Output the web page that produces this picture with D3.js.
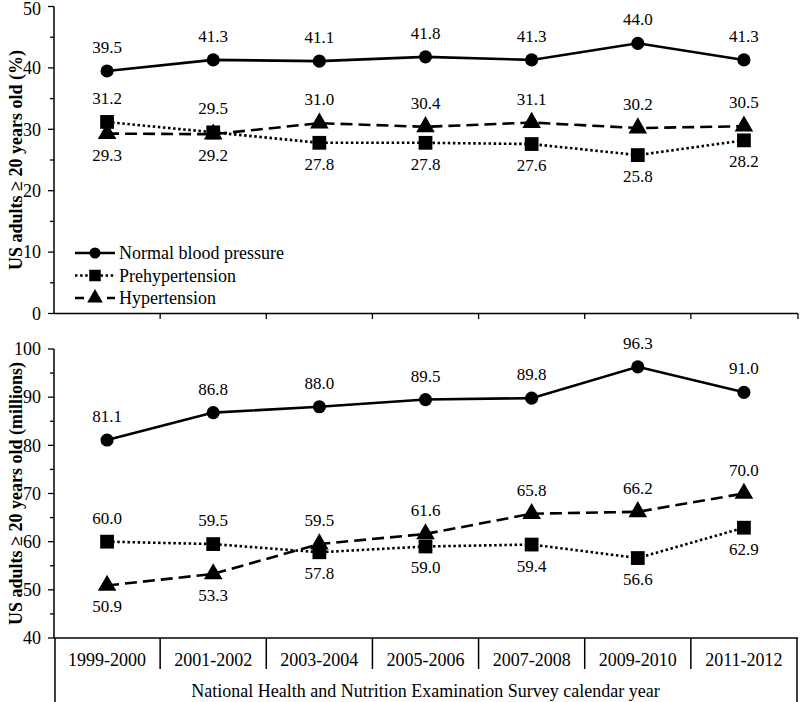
<!DOCTYPE html>
<html lang="en">
<head>
<meta charset="UTF-8">
<title>US adults by blood pressure category, NHANES 1999-2012</title>
<script src="https://d3js.org/d3.v7.min.js"></script>
<style>
    body { margin: 0; background: #fff; }
    svg text { font-family: "Liberation Serif", "Times New Roman", Times, "DejaVu Serif", serif; fill: #000; }
    .tick-label { font-size: 18px; }
    .val { font-size: 17px; text-anchor: middle; }
    .ytitle { font-size: 18px; font-weight: bold; text-anchor: middle; }
</style>
</head>
<body>
<svg id="svg" width="800" height="702"></svg>
<script>
    // categories and values
    const years = ["1999-2000", "2001-2002", "2003-2004", "2005-2006", "2007-2008", "2009-2010", "2011-2012"];

    const pctNormal = [39.5, 41.3, 41.1, 41.8, 41.3, 44.0, 41.3];
    const pctPre = [31.2, 29.5, 27.8, 27.8, 27.6, 25.8, 28.2];
    const pctHyp = [29.3, 29.2, 31.0, 30.4, 31.1, 30.2, 30.5];

    const mNormal = [81.1, 86.8, 88.0, 89.5, 89.8, 96.3, 91.0];
    const mPre = [60.0, 59.5, 57.8, 59.0, 59.4, 56.6, 62.9];
    const mHyp = [50.9, 53.3, 59.5, 61.6, 65.8, 66.2, 70.0];

    const seriesNames = ["Normal blood pressure", "Prehypertension", "Hypertension"];

    const svg = d3.select("#svg");
    const left = 54, right = 797;

    const x = d3.scaleBand().domain(years).range([left, right]);

    const styles = [
        { dash: null, shape: d3.symbolCircle, size: 135 },
        { dash: "2.5 2.6", shape: d3.symbolSquare, size: 190 },
        { dash: "12 6", shape: d3.symbolTriangle, size: 150 }
    ];

    function drawPanel(cfg) {
        const y = d3.scaleLinear().domain(cfg.domain).range([cfg.bottom, cfg.top]);
        const g = svg.append("g");

        // y axis with minor ticks
        const minor = d3.range(cfg.domain[0], cfg.domain[1] + 0.1, 5);
        g.append("g")
            .selectAll("line")
            .data(minor)
            .join("line")
            .attr("x1", d => d % 10 === 0 ? left - 6 : left - 4)
            .attr("x2", left)
            .attr("y1", d => y(d)).attr("y2", d => y(d))
            .attr("stroke", "#000").attr("stroke-width", 1.3);
        g.append("line")
            .attr("x1", left).attr("x2", left)
            .attr("y1", y(cfg.domain[1])).attr("y2", y(cfg.domain[0]))
            .attr("stroke", "#000").attr("stroke-width", 1.5);
        g.append("g")
            .selectAll("text")
            .data(minor.filter(d => d % 10 === 0))
            .join("text")
            .attr("class", "tick-label")
            .attr("x", left - 13)
            .attr("y", d => Math.max(y(d), 8.5))
            .attr("dy", "0.35em")
            .attr("text-anchor", "end")
            .text(d => d);

        // x axis line
        g.append("line")
            .attr("x1", left).attr("x2", right + 1)
            .attr("y1", y(cfg.domain[0])).attr("y2", y(cfg.domain[0]))
            .attr("stroke", "#000").attr("stroke-width", 1.5);

        g.append("text")
            .attr("class", "ytitle")
            .attr("transform", `translate(16,${(cfg.top + cfg.bottom) / 2}) rotate(-90)`)
            .attr("dy", "0.35em")
            .text(cfg.title);

        // lines and markers
        cfg.series.forEach((vals, si) => {
            const line = d3.line()
                .x((d, i) => x(years[i]) + x.bandwidth() / 2)
                .y(d => y(d));
            g.append("path")
                .datum(vals)
                .attr("d", line)
                .attr("fill", "none")
                .attr("stroke", "#000")
                .attr("stroke-width", 2.6)
                .attr("stroke-dasharray", styles[si].dash);
        });
        cfg.series.forEach((vals, si) => {
            g.append("g")
                .selectAll("path")
                .data(vals)
                .join("path")
                .attr("transform", (d, i) => `translate(${x(years[i]) + x.bandwidth() / 2},${y(d)})`)
                .attr("d", d3.symbol().type(styles[si].shape).size(styles[si].size));
        });

        // value labels: normal always above, of the other two the higher goes above
        cfg.series.forEach((vals, si) => {
            g.append("g")
                .selectAll("text")
                .data(vals)
                .join("text")
                .attr("class", "val")
                .attr("x", (d, i) => x(years[i]) + x.bandwidth() / 2)
                .attr("y", (d, i) => {
                    let above = true;
                    if (si === 1) above = d >= cfg.series[2][i];
                    if (si === 2) above = d > cfg.series[1][i];
                    return above ? y(d) - 18 : y(d) + 27;
                })
                .text(d => d.toFixed(1));
        });
        return { g, y };
    }

    const topPanel = drawPanel({
        domain: [0, 50], top: 6.5, bottom: 313.5,
        title: "US adults \u2265 20 years old (%)",
        series: [pctNormal, pctPre, pctHyp]
    });

    // small ticks under the top panel at category boundaries
    topPanel.g.append("g")
        .selectAll("line")
        .data(years.map(d => x(d)).concat([right + 1]).slice(1))
        .join("line")
        .attr("x1", d => d).attr("x2", d => d)
        .attr("y1", 313.5).attr("y2", 319)
        .attr("stroke", "#000").attr("stroke-width", 1.3);

    // legend
    const legend = svg.append("g").attr("transform", "translate(75,253)");
    seriesNames.forEach((name, i) => {
        const row = legend.append("g").attr("transform", `translate(0,${i * 22.5})`);
        row.append("line")
            .attr("x1", 0).attr("x2", 40)
            .attr("stroke", "#000").attr("stroke-width", 2.6)
            .attr("stroke-dasharray", i === 2 ? "9 7" : styles[i].dash);
        row.append("path")
            .attr("transform", "translate(20,0)")
            .attr("d", d3.symbol().type(styles[i].shape).size(styles[i].size * 0.7));
        row.append("text")
            .attr("class", "tick-label")
            .attr("x", 44).attr("dy", "0.35em")
            .text(name);
    });

    const bottomPanel = drawPanel({
        domain: [40, 100], top: 349, bottom: 638,
        title: "US adults \u2265 20 years old (millions)",
        series: [mNormal, mPre, mHyp]
    });

    // category table under the bottom panel
    const table = svg.append("g");
    table.selectAll("line.inner")
        .data(years.slice(1))
        .join("line")
        .attr("x1", d => x(d)).attr("x2", d => x(d))
        .attr("y1", 638).attr("y2", 669)
        .attr("stroke", "#000").attr("stroke-width", 1.5);
    table.selectAll("line.outer")
        .data([left + 1, right])
        .join("line")
        .attr("x1", d => d).attr("x2", d => d)
        .attr("y1", 638).attr("y2", 702)
        .attr("stroke", "#000").attr("stroke-width", 1.5);
    table.selectAll("text.cat")
        .data(years)
        .join("text")
        .attr("class", "tick-label")
        .attr("x", d => x(d) + x.bandwidth() / 2)
        .attr("y", 666)
        .attr("text-anchor", "middle")
        .text(d => d);
    table.append("text")
        .attr("class", "tick-label")
        .attr("x", (left + right) / 2)
        .attr("y", 697)
        .attr("text-anchor", "middle")
        .text("National Health and Nutrition Examination Survey calendar year");
</script>
</body>
</html>
